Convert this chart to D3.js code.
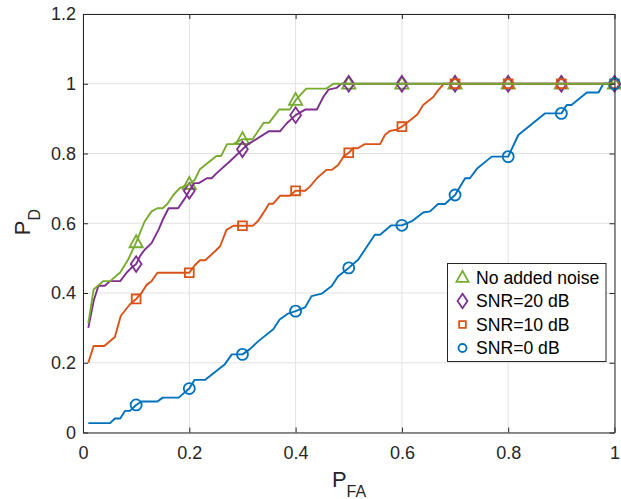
<!DOCTYPE html>
<html><head><meta charset="utf-8">
<script src="https://cdn.jsdelivr.net/npm/d3@7"></script>
<style>body{margin:0;background:#fff;} text{font-family:"Liberation Sans",Arial,Helvetica,sans-serif;}</style>
</head><body><svg id="c" width="621" height="499"></svg>
<script>
// ---- data ----
const xTicks = [0, 0.2, 0.4, 0.6, 0.8, 1];
const yTicks = [0, 0.2, 0.4, 0.6, 0.8, 1, 1.2];
const seriesNames = ["No added noise", "SNR=20 dB", "SNR=10 dB", "SNR=0 dB"];
const markerX = [0.1,0.2,0.3,0.4,0.5,0.6,0.7,0.8,0.9,1.0];

const noiseFreeX = [0.01,0.02,0.038,0.051,0.07,0.085,0.1,0.116,0.129,0.14,0.15,0.159,0.17,0.182,0.2,0.21,0.22,0.251,0.26,0.271,0.283,0.3,0.319,0.34,0.35,0.369,0.389,0.4,0.42,0.458,0.471,1.0];
const noiseFreeY = [0.313,0.41,0.434,0.434,0.459,0.496,0.545,0.605,0.634,0.643,0.643,0.656,0.681,0.701,0.712,0.724,0.755,0.793,0.793,0.827,0.827,0.841,0.841,0.888,0.888,0.926,0.926,0.953,0.986,0.986,1.0,1.0];
const noiseFreeMarkers = [0.545,0.712,0.841,0.953,1,1,1,1,1,1];

const snr20X = [0.01,0.02,0.029,0.041,0.051,0.07,0.082,0.091,0.1,0.107,0.116,0.129,0.142,0.15,0.161,0.179,0.192,0.2,0.209,0.218,0.233,0.242,0.251,0.276,0.3,0.311,0.35,0.371,0.383,0.393,0.4,0.418,0.44,0.452,0.462,0.477,0.486,1.0];
const snr20Y = [0.3,0.377,0.421,0.421,0.434,0.434,0.458,0.472,0.483,0.505,0.524,0.543,0.581,0.61,0.643,0.643,0.672,0.693,0.715,0.715,0.729,0.729,0.743,0.777,0.812,0.827,0.864,0.864,0.886,0.9,0.91,0.926,0.926,0.962,0.983,0.988,1.0,1.0];
const snr20Markers = [0.483,0.693,0.812,0.91,1,1,1,1,1,1];

const snr10X = [0.01,0.02,0.04,0.06,0.071,0.088,0.1,0.11,0.12,0.129,0.14,0.2,0.21,0.22,0.23,0.248,0.258,0.27,0.283,0.3,0.32,0.33,0.339,0.35,0.358,0.371,0.389,0.4,0.418,0.427,0.44,0.458,0.468,0.48,0.49,0.5,0.508,0.517,0.53,0.559,0.568,0.578,0.59,0.6,0.612,0.629,0.64,0.659,0.668,0.679,1.0];
const snr10Y = [0.2,0.248,0.248,0.274,0.334,0.367,0.383,0.4,0.424,0.434,0.458,0.458,0.479,0.494,0.494,0.519,0.534,0.581,0.593,0.593,0.593,0.608,0.629,0.656,0.656,0.679,0.679,0.693,0.693,0.705,0.729,0.753,0.753,0.767,0.791,0.802,0.815,0.815,0.827,0.827,0.853,0.865,0.868,0.877,0.891,0.912,0.939,0.962,0.981,1.0,1.0];
const snr10Markers = [0.383,0.458,0.593,0.693,0.802,0.877,1,1,1,1];

const snr0X = [0.01,0.051,0.06,0.07,0.079,0.088,0.1,0.11,0.14,0.15,0.18,0.2,0.21,0.23,0.267,0.28,0.3,0.314,0.33,0.358,0.37,0.386,0.4,0.418,0.43,0.449,0.468,0.48,0.5,0.518,0.549,0.559,0.58,0.6,0.62,0.64,0.653,0.668,0.681,0.7,0.719,0.728,0.741,0.769,0.8,0.819,0.869,0.9,0.91,0.919,0.948,0.97,0.979,1.0];
const snr0Y = [0.027,0.027,0.04,0.04,0.062,0.062,0.079,0.089,0.089,0.10,0.10,0.126,0.151,0.151,0.196,0.224,0.224,0.239,0.262,0.296,0.324,0.341,0.348,0.359,0.391,0.398,0.42,0.448,0.472,0.496,0.567,0.567,0.594,0.594,0.607,0.631,0.634,0.655,0.655,0.681,0.729,0.729,0.756,0.791,0.791,0.853,0.915,0.915,0.939,0.939,0.975,0.975,1.0,1.0];
const snr0Markers = [0.079,0.126,0.224,0.348,0.472,0.594,0.681,0.791,0.915,1.0];

// ---- drawing ----
const svg = d3.select("#c");
const L = 83, R = 614.5, T = 14, B = 432.5;
const x = d3.scaleLinear().domain([0,1]).range([L,R]);
const y = d3.scaleLinear().domain([0,1.2]).range([B,T]);
const axisCol = "#262626";
const LW = 1.9;

const series = [
  {name: seriesNames[0], xs: noiseFreeX, ys: noiseFreeY, m: noiseFreeMarkers, color: "#77AC30", sym: "tri"},
  {name: seriesNames[1], xs: snr20X, ys: snr20Y, m: snr20Markers, color: "#7E2F8E", sym: "dia"},
  {name: seriesNames[2], xs: snr10X, ys: snr10Y, m: snr10Markers, color: "#D95319", sym: "sq"},
  {name: seriesNames[3], xs: snr0X, ys: snr0Y, m: snr0Markers, color: "#0072BD", sym: "circ"}
];

// grid
const g = svg.append("g");
g.selectAll(".gx").data(xTicks).enter().append("line")
  .attr("x1", d=>x(d)).attr("x2", d=>x(d)).attr("y1", T).attr("y2", B)
  .attr("stroke", "#e2e2e2").attr("stroke-width", 1);
g.selectAll(".gy").data(yTicks).enter().append("line")
  .attr("x1", L).attr("x2", R).attr("y1", d=>y(d)).attr("y2", d=>y(d))
  .attr("stroke", "#e2e2e2").attr("stroke-width", 1);

function markerPath(sym, cx, cy, s) {
  if (sym === "tri") { const h = s; return `M${cx},${cy-h*0.6}L${cx+h*0.55},${cy+h*0.4}L${cx-h*0.55},${cy+h*0.4}Z`; }
  if (sym === "dia") { return `M${cx},${cy-s*0.65}L${cx+s*0.45},${cy}L${cx},${cy+s*0.65}L${cx-s*0.45},${cy}Z`; }
  if (sym === "sq") { const a = s*0.42; return `M${cx-a},${cy-a}H${cx+a}V${cy+a}H${cx-a}Z`; }
  return null;
}
function drawMarker(sel, sym, cx, cy, s, color, w) {
  if (sym === "circ") {
    sel.append("circle").attr("cx", cx).attr("cy", cy).attr("r", s*0.5)
      .attr("fill", "none").attr("stroke", color).attr("stroke-width", w);
  } else {
    sel.append("path").attr("d", markerPath(sym, cx, cy, s))
      .attr("fill", "none").attr("stroke", color).attr("stroke-width", w);
  }
}

// markers
const mg = svg.append("g");
series.forEach(s => {
  markerX.forEach((mx, i) => drawMarker(mg, s.sym, x(mx), y(s.m[i]), s.sym==="circ"?11:(s.sym==="sq"?10.5:12), s.color, 1.8));
});

// lines
const line = d3.line().x(d=>x(d[0])).y(d=>y(d[1]));
series.slice().reverse().forEach(s => {
  const pts = s.xs.map((v,i)=>[v, s.ys[i]]);
  svg.append("path").datum(pts).attr("d", line)
    .attr("fill", "none").attr("stroke", s.color).attr("stroke-width", LW)
    .attr("stroke-linejoin", "round");
});

// axes
const fs = "18px";
const xb = svg.append("g").attr("transform", `translate(0,${B})`)
  .call(d3.axisBottom(x).tickValues(xTicks).tickFormat(d3.format("~g")).tickSizeInner(-5).tickSizeOuter(0).tickPadding(14));
const xt = svg.append("g").attr("transform", `translate(0,${T})`)
  .call(d3.axisTop(x).tickValues(xTicks).tickFormat("").tickSizeInner(-5).tickSizeOuter(0));
const yl = svg.append("g").attr("transform", `translate(${L},0)`)
  .call(d3.axisLeft(y).tickValues(yTicks).tickFormat(d3.format("~g")).tickSizeInner(-5).tickSizeOuter(0).tickPadding(7));
const yr = svg.append("g").attr("transform", `translate(${R},0)`)
  .call(d3.axisRight(y).tickValues(yTicks).tickFormat("").tickSizeInner(-5).tickSizeOuter(0));
[xb, xt, yl, yr].forEach(a => {
  a.selectAll("path,line").attr("stroke", axisCol).attr("stroke-width", 1);
  a.selectAll("text").attr("fill", axisCol).style("font-size", fs)
    .style("font-family", '"Liberation Sans", Arial, sans-serif');
});

// axis labels
const xlab = svg.append("text").attr("x", 349).attr("y", 487).attr("text-anchor", "middle")
  .attr("fill", axisCol).style("font-size", "22px");
xlab.append("tspan").text("P");
xlab.append("tspan").attr("dy", 10).style("font-size", "16px").text("FA");

const ylab = svg.append("text").attr("transform", "translate(30,222) rotate(-90)").attr("text-anchor", "middle")
  .attr("fill", axisCol).style("font-size", "22px");
ylab.append("tspan").text("P");
ylab.append("tspan").attr("dy", 10).style("font-size", "16px").text("D");

// legend
const lg = svg.append("g");
lg.append("rect").attr("x", 447.5).attr("y", 263.5).attr("width", 158.5).attr("height", 98)
  .attr("fill", "#fff").attr("stroke", axisCol).attr("stroke-width", 1);
series.forEach((s, i) => {
  const cy = 277.5 + i*23.5;
  drawMarker(lg, s.sym, 462.5, cy, s.sym==="circ"?8:(s.sym==="sq"?8:11), s.color, 1.8);
  lg.append("text").attr("x", 476).attr("y", cy).attr("dy", "0.36em")
    .attr("fill", "#000").style("font-size", "17.6px").text(s.name);
});
</script></body></html>
